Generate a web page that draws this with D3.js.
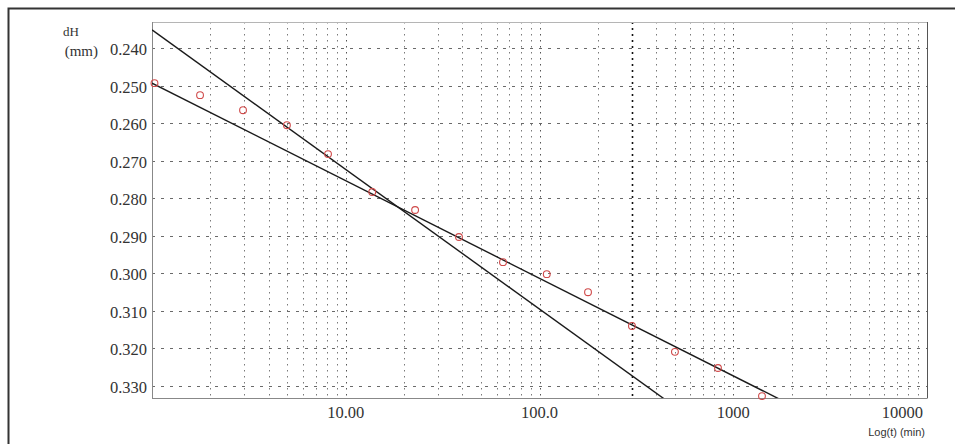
<!DOCTYPE html>
<html>
<head>
<meta charset="utf-8">
<script src="https://cdn.jsdelivr.net/npm/d3@7"></script>
<style>
  body { margin: 0; background: #fff; }
  svg { display: block; }
</style>
</head>
<body>
<svg id="chart" width="955" height="444"></svg>
<script>
// Settlement readings: elapsed time (min) and dial change dH (mm)
const timesMin = [1.03, 1.77, 2.95, 4.97, 8.1, 13.7, 22.8, 38.4, 64.8, 109, 178, 300, 500, 834, 1407];
const dHmm     = [0.2493, 0.2525, 0.2565, 0.2605, 0.2682, 0.2783, 0.2831, 0.2903, 0.2970, 0.3002, 0.3050, 0.3140, 0.3209, 0.3252, 0.3327];

// Fitted straight lines on the semi-log plot: dH = a + b * log10(t)
const fitIntercepts = [0.2351, 0.2493];
const fitSlopes     = [0.0372, 0.0260];

// Axis ticks
const yTicks = [0.240, 0.250, 0.260, 0.270, 0.280, 0.290, 0.300, 0.310, 0.320, 0.330];
const xTickValues = [10, 100, 1000, 10000];
const xTickLabels = ["10.00", "100.0", "1000", "10000"];
const markerTime = [300];

const serif = "'Liberation Serif', 'DejaVu Serif', 'Times New Roman', serif";
const sans = "'Liberation Sans', 'DejaVu Sans', Arial, sans-serif";

const svg = d3.select("#chart");
const plot = { left: 152, top: 22, right: 927, bottom: 398 };

const x = d3.scaleLog().domain([1, 10000]).range([plot.left, plot.right]);
const y = d3.scaleLinear().domain([0.2330, 0.3332]).range([plot.top, plot.bottom]);

// outer frame
svg.append("rect")
  .attr("x", 8.5).attr("y", 8.5).attr("width", 970).attr("height", 460)
  .attr("fill", "none").attr("stroke", "#333").attr("stroke-width", 2);

const clipId = "plot-clip";
svg.append("clipPath").attr("id", clipId)
  .append("rect")
  .attr("x", plot.left).attr("y", plot.top)
  .attr("width", plot.right - plot.left).attr("height", plot.bottom - plot.top);

// vertical log grid (2..9 within each decade, plus decades)
const minorTimes = [];
for (let d = 0; d < 4; d++) {
  for (let k = 2; k <= 10; k++) minorTimes.push(k * Math.pow(10, d));
}
svg.append("g").selectAll("line").data(minorTimes.filter(t => t < 10000)).join("line")
  .attr("x1", d => Math.round(x(d)) + 0.5).attr("x2", d => Math.round(x(d)) + 0.5)
  .attr("y1", plot.top).attr("y2", plot.bottom)
  .attr("stroke", d => (Math.log10(d) % 1 === 0) ? "#555" : "#7a7a7a")
  .attr("stroke-width", 1)
  .attr("stroke-dasharray", "1.5,4.5");

// emphasised time marker
svg.append("g").selectAll("line").data(markerTime).join("line")
  .attr("x1", d => Math.round(x(d)) + 0.5).attr("x2", d => Math.round(x(d)) + 0.5)
  .attr("y1", plot.top).attr("y2", plot.bottom)
  .attr("stroke", "#111").attr("stroke-width", 1.6)
  .attr("stroke-dasharray", "2,4");

// horizontal grid at each labelled value
svg.append("g").selectAll("line").data(yTicks).join("line")
  .attr("x1", plot.left).attr("x2", plot.right)
  .attr("y1", d => Math.round(y(d)) + 0.5).attr("y2", d => Math.round(y(d)) + 0.5)
  .attr("stroke", "#6a6a6a").attr("stroke-width", 1)
  .attr("stroke-dasharray", "3,6");

// plot border
svg.append("rect")
  .attr("x", plot.left + 0.5).attr("y", plot.top + 0.5)
  .attr("width", plot.right - plot.left).attr("height", plot.bottom - plot.top)
  .attr("fill", "none").attr("stroke", "#b5b5b5").attr("stroke-width", 1);
svg.append("line")
  .attr("x1", plot.left + 0.5).attr("x2", plot.left + 0.5)
  .attr("y1", plot.top).attr("y2", plot.bottom)
  .attr("stroke", "#888");
svg.append("line")
  .attr("x1", plot.left).attr("x2", plot.right)
  .attr("y1", plot.bottom + 0.5).attr("y2", plot.bottom + 0.5)
  .attr("stroke", "#888");
svg.append("line")
  .attr("x1", plot.right + 0.5).attr("x2", plot.right + 0.5)
  .attr("y1", plot.top).attr("y2", plot.bottom)
  .attr("stroke", "#555");

// fitted lines
const fitData = fitIntercepts.map((a, i) => [1, 10000].map(t => ({ t, v: a + fitSlopes[i] * Math.log10(t) })));
const lineGen = d3.line().x(d => x(d.t)).y(d => y(d.v));
svg.append("g").attr("clip-path", `url(#${clipId})`)
  .selectAll("path").data(fitData).join("path")
  .attr("d", lineGen)
  .attr("fill", "none").attr("stroke", "#1a1a1a").attr("stroke-width", 1.4);

// readings
svg.append("g").selectAll("circle").data(timesMin.map((t, i) => ({ t, v: dHmm[i] }))).join("circle")
  .attr("cx", d => x(d.t)).attr("cy", d => y(d.v)).attr("r", 3.4)
  .attr("fill", "none").attr("stroke", "#d04a4a").attr("stroke-width", 1.1);

// y tick labels
svg.append("g").selectAll("text").data(yTicks).join("text")
  .attr("x", 147).attr("y", d => y(d) + 1)
  .attr("dy", "0.35em")
  .attr("text-anchor", "end")
  .attr("font-family", serif)
  .attr("font-size", 16.5)
  .attr("fill", "#333")
  .text(d => d.toFixed(3));

// x tick labels
svg.append("g").selectAll("text").data(xTickValues).join("text")
  .attr("x", (d, i) => i === xTickValues.length - 1 ? x(d) - 4 : x(d))
  .attr("y", 418)
  .attr("text-anchor", (d, i) => i === xTickValues.length - 1 ? "end" : "middle")
  .attr("font-family", serif)
  .attr("font-size", 16.5)
  .attr("fill", "#333")
  .text((d, i) => xTickLabels[i]);

// axis titles
svg.append("text")
  .attr("x", 63).attr("y", 36)
  .attr("font-family", serif)
  .attr("font-size", 13).attr("fill", "#333")
  .text("dH");
svg.append("text")
  .attr("x", 98).attr("y", 56)
  .attr("text-anchor", "end")
  .attr("font-family", serif)
  .attr("font-size", 15).attr("fill", "#333")
  .text("(mm)");
svg.append("text")
  .attr("x", 925).attr("y", 436)
  .attr("text-anchor", "end")
  .attr("font-family", sans)
  .attr("font-size", 11).attr("fill", "#333")
  .text("Log(t) (min)");
</script>
</body>
</html>
